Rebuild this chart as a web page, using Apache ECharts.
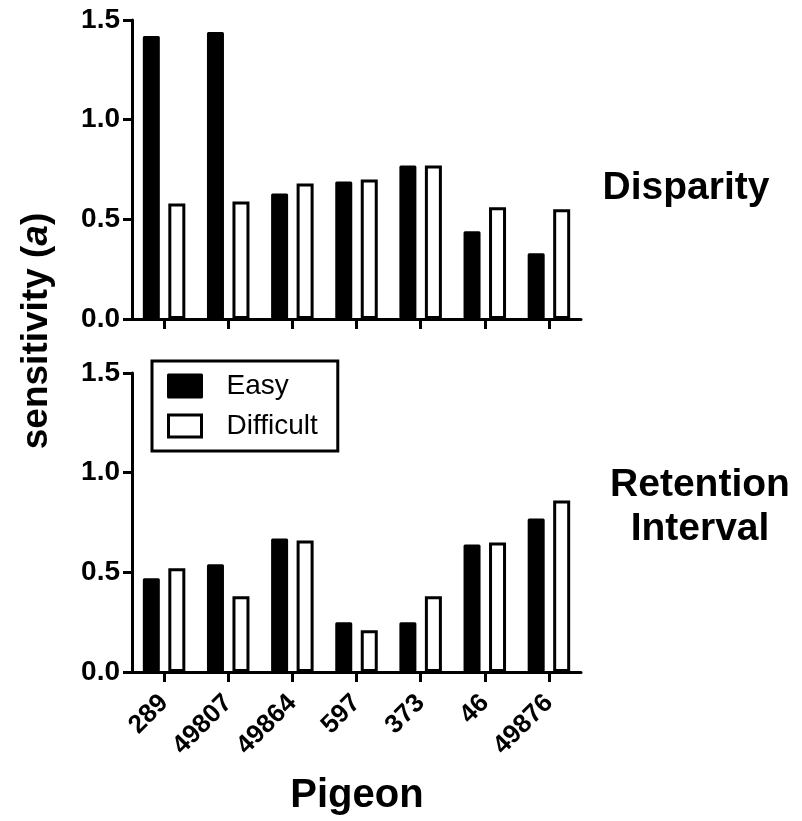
<!DOCTYPE html>
<html>
<head>
<meta charset="utf-8">
<script src="https://cdn.jsdelivr.net/npm/echarts@6/dist/echarts.min.js"></script>
<style>
  html, body { margin: 0; padding: 0; background: #fff; }
  #chart { width: 802px; height: 821px; }
</style>
</head>
<body>
<div id="chart"></div>
<script>
// Pigeon identifiers along the shared x axis
const pigeons = ['289', '49807', '49864', '597', '373', '46', '49876'];

// Sensitivity (a) per pigeon, disparity condition
const disparityEasy = [1.42, 1.44, 0.63, 0.69, 0.77, 0.44, 0.33];
const disparityDifficult = [0.58, 0.59, 0.68, 0.70, 0.77, 0.56, 0.55];

// Sensitivity (a) per pigeon, retention-interval condition
const retentionEasy = [0.47, 0.54, 0.67, 0.25, 0.25, 0.64, 0.77];
const retentionDifficult = [0.52, 0.38, 0.66, 0.21, 0.38, 0.65, 0.86];

// Value axis range shared by both panels
const yMin = 0, yMax = 1.5, yStep = 0.5;

const FONT = 'Liberation Sans, Arial, Helvetica, sans-serif';
const INK = '#000';

const grids = [
  { left: 132, top: 20, width: 449, height: 299 },
  { left: 132, top: 373, width: 449, height: 299 }
];

function xAxisFor(gridIndex, showLabels) {
  return {
    type: 'category',
    gridIndex: gridIndex,
    data: pigeons,
    boundaryGap: true,
    axisLine: { show: true, lineStyle: { color: INK, width: 3 } },
    axisTick: { show: true, alignWithLabel: true, length: 10, lineStyle: { color: INK, width: 3 } },
    axisLabel: {
      show: showLabels,
      rotate: 45,
      margin: 27,
      interval: 0,
      color: INK,
      fontFamily: FONT,
      fontWeight: 'bold',
      fontSize: 26
    },
    splitLine: { show: false }
  };
}

function yAxisFor(gridIndex) {
  return {
    type: 'value',
    gridIndex: gridIndex,
    min: yMin,
    max: yMax,
    interval: yStep,
    axisLine: { show: true, lineStyle: { color: INK, width: 3 } },
    axisTick: { show: true, length: 9, lineStyle: { color: INK, width: 3 } },
    axisLabel: {
      margin: 12,
      color: INK,
      fontFamily: FONT,
      fontWeight: 'bold',
      fontSize: 28,
      formatter: v => v.toFixed(1)
    },
    splitLine: { show: false }
  };
}

const easyStyle = { color: INK, borderColor: INK, borderWidth: 3, borderJoin: 'round' };
const difficultStyle = { color: '#fff', borderColor: INK, borderWidth: 3 };

function barSeries(name, axisIndex, values, style) {
  return {
    name: name,
    type: 'bar',
    xAxisIndex: axisIndex,
    yAxisIndex: axisIndex,
    data: values,
    barWidth: 17,
    barGap: '50%',
    itemStyle: style,
    emphasis: { disabled: true },
    animation: false
  };
}

const chart = echarts.init(document.getElementById('chart'), null, { renderer: 'canvas' });

chart.setOption({
  backgroundColor: '#fff',
  animation: false,
  grid: grids,
  xAxis: [xAxisFor(0, false), xAxisFor(1, true)],
  yAxis: [yAxisFor(0), yAxisFor(1)],
  legend: {
    data: ['Easy', 'Difficult'],
    orient: 'vertical',
    left: 152,
    top: 361,
    padding: [11, 20, 11, 15],
    itemWidth: 33,
    itemHeight: 22,
    itemGap: 12,
    icon: 'rect',
    borderColor: INK,
    borderWidth: 3,
    borderRadius: 0,
    backgroundColor: '#fff',
    selectedMode: false,
    itemStyle: { borderWidth: 3, borderColor: INK },
    textStyle: {
      color: INK,
      fontFamily: FONT,
      fontSize: 28,
      lineHeight: 28,
      padding: [0, 0, 0, 20]
    }
  },
  series: [
    barSeries('Easy', 0, disparityEasy, easyStyle),
    barSeries('Difficult', 0, disparityDifficult, difficultStyle),
    barSeries('Easy', 1, retentionEasy, easyStyle),
    barSeries('Difficult', 1, retentionDifficult, difficultStyle)
  ],
  graphic: [
    {
      type: 'text',
      x: 37,
      y: 331,
      rotation: Math.PI / 2,
      style: {
        text: '{b|sensitivity (}{i|a}{b|)}',
        align: 'center',
        verticalAlign: 'middle',
        rich: {
          b: { fontFamily: FONT, fontWeight: 'bold', fontSize: 37, fill: INK },
          i: { fontFamily: FONT, fontWeight: 'bold', fontStyle: 'italic', fontSize: 37, fill: INK }
        }
      }
    },
    {
      type: 'text',
      x: 686,
      y: 188,
      style: {
        text: 'Disparity',
        align: 'center',
        verticalAlign: 'middle',
        fontFamily: FONT,
        fontWeight: 'bold',
        fontSize: 39,
        fill: INK
      }
    },
    {
      type: 'text',
      x: 700,
      y: 507,
      style: {
        text: 'Retention\nInterval',
        align: 'center',
        verticalAlign: 'middle',
        fontFamily: FONT,
        fontWeight: 'bold',
        fontSize: 39,
        lineHeight: 44,
        fill: INK
      }
    },
    {
      type: 'text',
      x: 357,
      y: 796,
      style: {
        text: 'Pigeon',
        align: 'center',
        verticalAlign: 'middle',
        fontFamily: FONT,
        fontWeight: 'bold',
        fontSize: 40,
        fill: INK
      }
    }
  ]
});
</script>
</body>
</html>
